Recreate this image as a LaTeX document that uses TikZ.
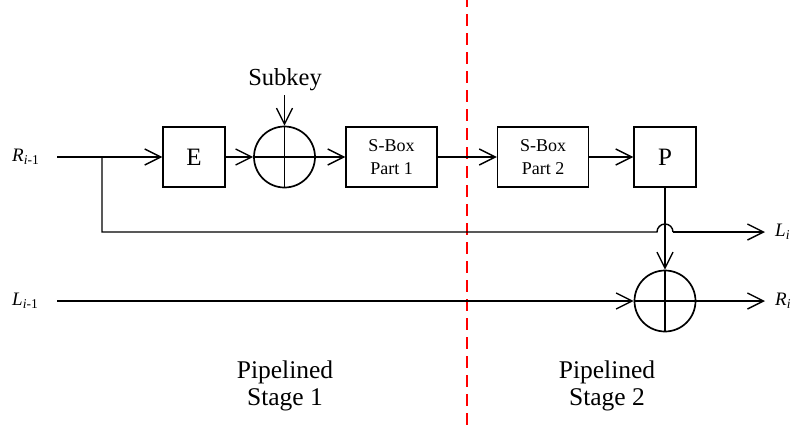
\documentclass[tikz,border=0pt]{standalone}
\usepackage{fontspec}
\setmainfont{Liberation Serif}
\usetikzlibrary{arrows.meta}
\newcommand{\sublbl}[2]{\textit{#1}{\fontsize{13.5}{14}\selectfont\raisebox{-3.5pt}{#2}}}
\begin{document}
\begin{tikzpicture}[x=1pt,y=-1pt,
  wire/.style={line width=1.4pt},
  arr/.style={wire,-{Straight Barb[length=16pt,width=16pt,line width=1.4pt]}},
  blk/.style={draw,line width=1.4pt,minimum width=62pt,minimum height=60pt,inner sep=0pt,font=\fontsize{25}{27}\selectfont},
  sbox/.style={blk,minimum width=91pt,align=center,font=\fontsize{18}{22.5}\selectfont},
  xorc/.style={draw,circle,line width=1.7pt,minimum size=61pt,inner sep=0pt,
    path picture={\draw[line width=1.7pt] (path picture bounding box.north) -- (path picture bounding box.south)
      (path picture bounding box.west) -- (path picture bounding box.east);}},
  lbl/.style={font=\fontsize{19}{20}\selectfont,inner sep=0pt},
  stage/.style={align=center,font=\fontsize{25.5}{27}\selectfont}]
\useasboundingbox (0,0) rectangle (798,432);
% dashed separator
\draw[red,line width=1.7pt,dash pattern=on 12pt off 7pt,dash phase=5pt] (467,0) -- (467,432);
% blocks
\node[blk] (E) at (194,157) {E};
\node[xorc] (x1) at (284.5,157) {};
\node[sbox] (s1) at (391.5,157) {S-Box\\Part 1};
\node[sbox] (s2) at (543,157) {S-Box\\Part 2};
\node[blk] (P) at (665,157) {P};
\node[xorc] (x2) at (665,301) {};
% labels
\node[lbl,anchor=west] (Rin) at (12,157) {\sublbl{R}{\textit{i}-1}};
\node[lbl,anchor=west] (Lin) at (12,301) {\sublbl{L}{\textit{i}-1}};
\node[lbl,anchor=west] (Lout) at (775,232) {\sublbl{L}{\textit{i}}};
\node[lbl,anchor=west] (Rout) at (775,301) {\sublbl{R}{\textit{i}}};
\node[font=\fontsize{24.5}{26}\selectfont] (sk) at (285,80) {Subkey};
\node[stage] (st1) at (285,386) {Pipelined\\Stage 1};
\node[stage] (st2) at (607,386) {Pipelined\\Stage 2};
% coordinates
\coordinate (a1) at (57,157);
\coordinate (br) at (102,157);
\coordinate (a2) at (57,301);
\coordinate (hump) at (657,232);
\coordinate (hump2) at (673,232);
\coordinate (Lend) at (765,232);
\coordinate (Rend) at (765,301);
\coordinate (sktop) at (284.5,95);
% connectors
\draw[arr] (a1) -- (E.west);
\draw[arr] (E.east) -- (x1.west);
\draw[arr] (sktop) -- (x1.north);
\draw[arr] (x1.east) -- (s1.west);
\draw[arr] (s1.east) -- (s2.west);
\draw[arr] (s2.east) -- (P.west);
\draw[arr] (P.south) -- (x2.north);
\draw[wire] (br) |- (hump) arc[start angle=180,end angle=0,radius=8pt];
\draw[arr] (hump2) -- (Lend);
\draw[arr] (a2) -- (x2.west);
\draw[arr] (x2.east) -- (Rend);
\end{tikzpicture}
\end{document}
